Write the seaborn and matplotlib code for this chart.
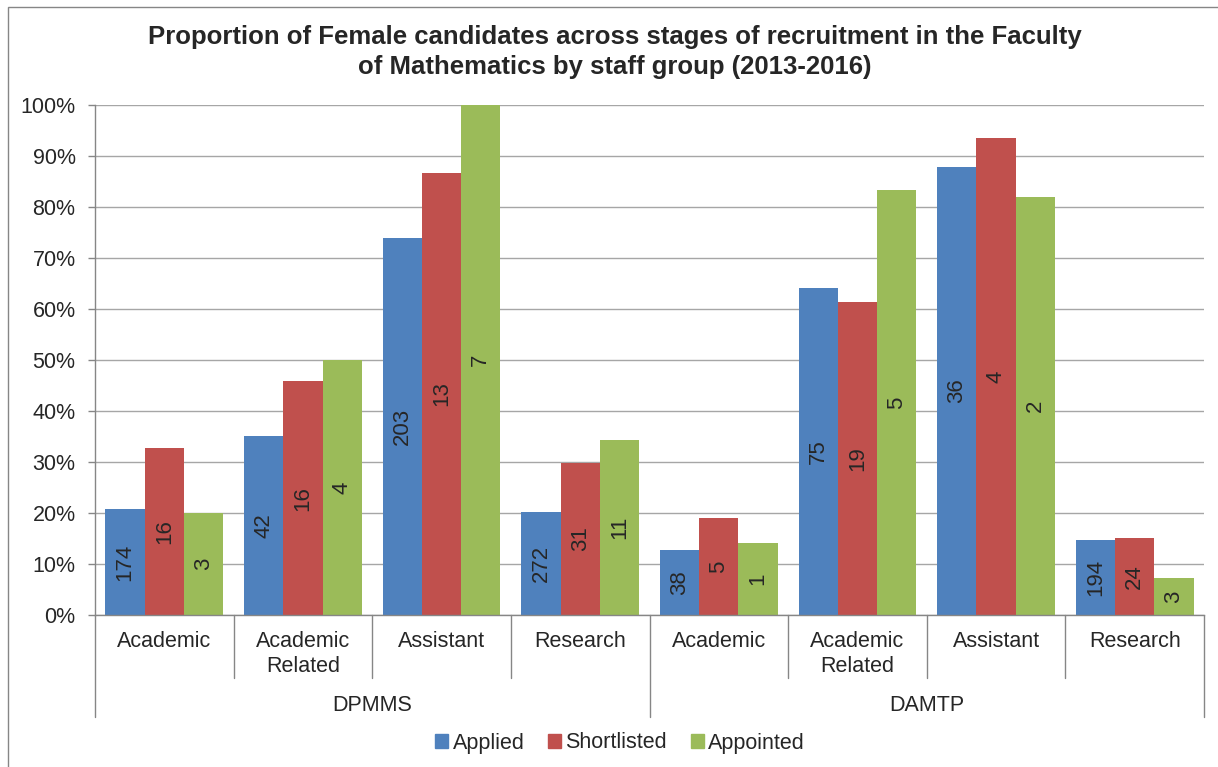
import matplotlib
matplotlib.use('Agg')
import matplotlib.pyplot as plt
import matplotlib.patches as mpatches
import numpy as np
import pandas as pd
import seaborn as sns

# data (percent female at each stage)
groups = ['DPMMS'] * 4 + ['DAMTP'] * 4
staff = ['Academic', 'Academic\nRelated', 'Assistant', 'Research'] * 2
stages = ['Applied', 'Shortlisted', 'Appointed']

applied = [20.8, 35.1, 73.9, 20.1, 12.7, 64.1, 87.8, 14.7]
shortlisted = [32.7, 45.8, 86.7, 29.8, 19.0, 61.3, 93.5, 15.1]
appointed = [20.0, 50.0, 100.0, 34.4, 14.1, 83.4, 81.9, 7.3]

# number of female candidates (bar labels)
applied_n = [174, 42, 203, 272, 38, 75, 36, 194]
shortlisted_n = [16, 16, 13, 31, 5, 19, 4, 24]
appointed_n = [3, 4, 7, 11, 1, 5, 2, 3]

colors = ['#4F81BD', '#C0504D', '#9BBB59']

# long table for seaborn
keys = [g + '|' + s for g, s in zip(groups, staff)]
rows = []
for stage, vals in zip(stages, [applied, shortlisted, appointed]):
    for k, v in zip(keys, vals):
        rows.append({'key': k, 'stage': stage, 'value': v})
df = pd.DataFrame(rows)

sns.set_style('white')
plt.rcParams['font.family'] = ['Liberation Sans', 'DejaVu Sans']
FS = 15.5

W, H = 1218, 767
fig = plt.figure(figsize=(W / 100, H / 100), dpi=100)
ax = fig.add_axes([95 / W, 1 - 615 / H, (1204 - 95) / W, 510 / H])

sns.barplot(data=df, x='key', y='value', hue='stage', order=keys,
            hue_order=stages, palette=colors, saturation=1, width=0.85,
            linewidth=0, ax=ax)
ax.legend_.remove()

ax.set_xlim(-0.5, len(keys) - 0.5)
ax.set_ylim(0, 100)
ax.set_yticks(np.arange(0, 101, 10))
ax.set_yticklabels([f'{v}%' for v in range(0, 101, 10)], fontsize=FS)
ax.set_xticks([])
ax.set_xlabel('')
ax.set_ylabel('')
ax.set_axisbelow(True)
ax.yaxis.grid(True, color='#a6a6a6', linewidth=1)
ax.tick_params(axis='y', length=5, width=1, color='#868686', direction='out', pad=9, left=True)
for side in ['top', 'right']:
    ax.spines[side].set_visible(False)
for side in ['left', 'bottom']:
    ax.spines[side].set_color('#868686')
    ax.spines[side].set_linewidth(1)

# counts inside bars
for cont, counts in zip(ax.containers, [applied_n, shortlisted_n, appointed_n]):
    ax.bar_label(cont, labels=[str(c) for c in counts], label_type='center',
                 rotation=90, fontsize=16)

# category axis: staff labels, group labels and separators
tr = ax.get_xaxis_transform()
for i, s in enumerate(staff):
    ax.text(i, -0.031, s, transform=tr, ha='center', va='top', fontsize=FS,
            linespacing=1.25)
for gi, g in enumerate(['DPMMS', 'DAMTP']):
    ax.text(gi * 4 + 1.5, -0.178, g, transform=tr, ha='center', va='center', fontsize=FS)
for x in np.arange(-0.5, len(keys), 1.0):
    bottom = -0.2 if x in (-0.5, 3.5, 7.5) else -0.124
    ax.plot([x, x], [0, bottom], transform=tr, color='#868686', lw=1, clip_on=False)

# title
fig.text(615 / W, 1 - 25 / H,
         'Proportion of Female candidates across stages of recruitment in the Faculty\n'
         'of Mathematics by staff group (2013-2016)',
         ha='center', va='top', fontsize=18.5, fontweight='bold', linespacing=1.32)

# legend
handles = [mpatches.Patch(color=c, label=s) for c, s in zip(colors, stages)]
fig.legend(handles=handles, loc='center', bbox_to_anchor=(620 / W, 1 - 743 / H),
           ncol=3, frameon=False, fontsize=FS, handlelength=0.6, handleheight=0.6,
           handletextpad=0.2, columnspacing=1.1)

# chart border (cropped at right and bottom)
fig.patches.append(mpatches.Rectangle((8 / W, -0.1), 1.2, 1.1 - 7 / H, fill=False,
                                      edgecolor='#868686', lw=1, transform=fig.transFigure))

fig.savefig('out.png', dpi=100)
